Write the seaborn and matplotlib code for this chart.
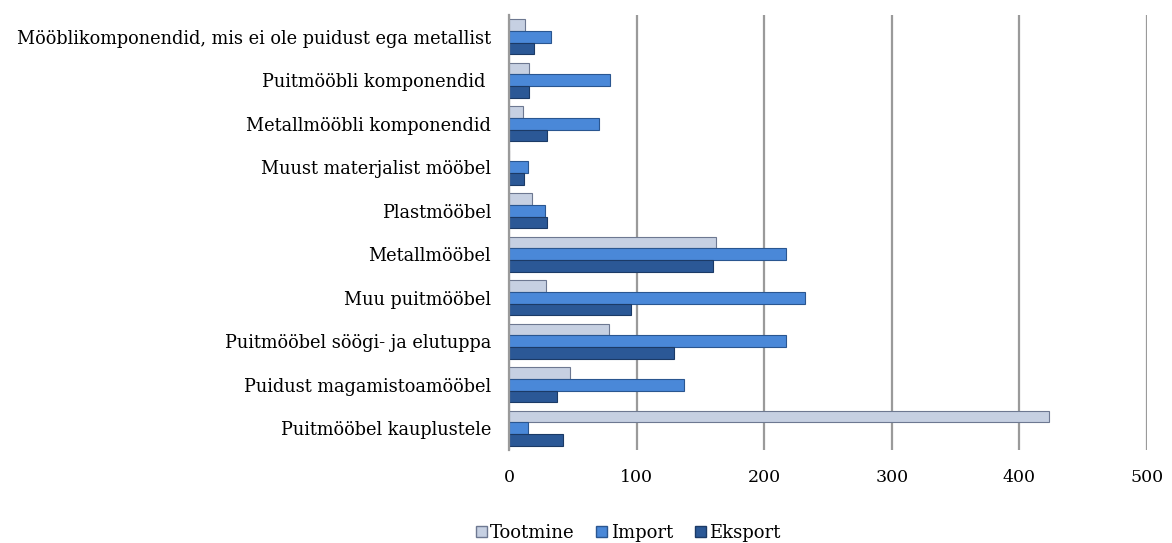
import matplotlib
matplotlib.use("Agg")
import matplotlib.pyplot as plt
import pandas as pd
import seaborn as sns

categories = [
    "Mööblikomponendid, mis ei ole puidust ega metallist",
    "Puitmööbli komponendid ",
    "Metallmööbli komponendid",
    "Muust materjalist mööbel",
    "Plastmööbel",
    "Metallmööbel",
    "Muu puitmööbel",
    "Puitmööbel söögi- ja elutuppa",
    "Puidust magamistoamööbel",
    "Puitmööbel kauplustele",
]
series = ["Tootmine", "Import", "Eksport"]
tootmine = [12.5, 16, 11, 0, 18, 162, 29, 78, 48, 423]
import_ = [33, 79, 70.5, 15, 28, 217, 232, 217, 137, 15]
eksport = [19.5, 15.5, 29.5, 12, 30, 160, 96, 129.5, 37.5, 42]
x_ticks = [0, 100, 200, 300, 400, 500]

df = pd.DataFrame({
    "Kategooria": categories * 3,
    "Seeria": [s for s in series for _ in categories],
    "Väärtus": tootmine + import_ + eksport,
})

sns.set_style("white")
plt.rcParams["font.family"] = ["DejaVu Serif"]
plt.rcParams["text.color"] = "black"

fig = plt.figure(figsize=(11.72, 5.43), dpi=100)
ax = fig.add_axes([509 / 1172, 1 - 450 / 543, (1147 - 509) / 1172, (450 - 15) / 543])

palette = {"Tootmine": "#c6d0e2", "Import": "#4a88d8", "Eksport": "#2b5896"}
edges = {"Tootmine": "#6d7891", "Import": "#2a5690", "Eksport": "#1b3a66"}
sns.barplot(data=df, y="Kategooria", x="Väärtus", hue="Seeria", order=categories,
            hue_order=series, palette=palette, orient="h", width=0.8, saturation=1,
            ax=ax, legend=False)
for container, s in zip(ax.containers, series):
    for bar in container:
        bar.set_edgecolor(edges[s])
        bar.set_linewidth(0.8)

ax.set_xlim(0, 500)
ax.set_xticks(x_ticks)
ax.set_xticklabels([str(t) for t in x_ticks], fontsize=12.5)
ax.tick_params(axis="x", length=0, pad=14, labelcolor="black")
ax.tick_params(axis="y", length=0, pad=13, labelsize=12.8, labelcolor="black")
ax.xaxis.grid(True, color="#9a9a9a", linewidth=1.6)
ax.set_axisbelow(True)
for side in ["top", "right", "bottom"]:
    ax.spines[side].set_visible(False)
ax.spines["left"].set_color("#9a9a9a")
ax.spines["left"].set_linewidth(1.6)
ax.set_xlabel("")
ax.set_ylabel("")

handles = [plt.Rectangle((0, 0), 1, 1, facecolor=palette[s], edgecolor=edges[s]) for s in series]
fig.legend(handles, series, loc="center", bbox_to_anchor=(0.536, 10 / 543),
           ncol=3, frameon=False, fontsize=13, handlelength=0.6, handleheight=0.6,
           handletextpad=0.2, columnspacing=1.2)

fig.savefig("out.png", dpi=100)
